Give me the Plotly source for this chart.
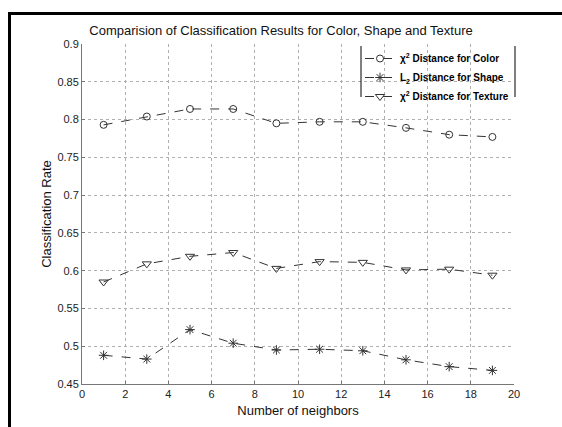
import plotly.graph_objects as go

neighbors = [1, 3, 5, 7, 9, 11, 13, 15, 17, 19]
color_rate = [0.793, 0.804, 0.814, 0.814, 0.795, 0.797, 0.797, 0.789, 0.780, 0.777]
shape_rate = [0.488, 0.483, 0.522, 0.504, 0.495, 0.496, 0.494, 0.482, 0.473, 0.468]
texture_rate = [0.585, 0.609, 0.619, 0.624, 0.603, 0.612, 0.611, 0.601, 0.602, 0.594]

x_ticks = list(range(0, 21, 2))
y_ticks = [0.45, 0.5, 0.55, 0.6, 0.65, 0.7, 0.75, 0.8, 0.85, 0.9]
y_tick_labels = ["0.45", "0.5", "0.55", "0.6", "0.65", "0.7", "0.75", "0.8", "0.85", "0.9"]

names = ["χ<sup>2</sup> Distance for Color",
         "L<sub>2</sub> Distance for Shape",
         "χ<sup>2</sup> Distance for Texture"]

FONT = "Liberation Sans, Arial, sans-serif"
LINE_C = "#333333"

fig = go.Figure()
fig.add_trace(go.Scatter(x=neighbors, y=color_rate, mode="lines+markers", name=names[0],
                         line=dict(color=LINE_C, width=1, dash="dash"),
                         marker=dict(symbol="circle-open", size=7, color=LINE_C, line=dict(width=1))))
fig.add_trace(go.Scatter(x=neighbors, y=shape_rate, mode="lines+markers", name=names[1],
                         line=dict(color=LINE_C, width=1, dash="dash"),
                         marker=dict(symbol="asterisk-open", size=8, color=LINE_C, line=dict(width=1, color=LINE_C))))
fig.add_trace(go.Scatter(x=neighbors, y=texture_rate, mode="lines+markers", name=names[2],
                         line=dict(color=LINE_C, width=1, dash="dash"),
                         marker=dict(symbol="triangle-down-open", size=8, color=LINE_C, line=dict(width=1))))

L, R, T, B = 82, 48, 44, 43
W, H = 562, 427
pw, ph = W - L - R, H - T - B

def px(xp):
    return (xp - L) / pw

def py(yp):
    return (H - B - yp) / ph

shapes = [
    # outer figure frame (left and top visible)
    dict(type="line", xref="paper", yref="paper", x0=px(9.5), x1=px(9.5), y0=py(12), y1=py(440),
         line=dict(color="black", width=3)),
    dict(type="line", xref="paper", yref="paper", x0=px(8), x1=px(580), y0=py(13.5), y1=py(13.5),
         line=dict(color="black", width=3)),
    # legend side borders
    dict(type="line", xref="paper", yref="paper", x0=px(361), x1=px(361), y0=py(46), y1=py(97),
         line=dict(color="black", width=1)),
    dict(type="line", xref="paper", yref="paper", x0=px(515), x1=px(515), y0=py(46), y1=py(97),
         line=dict(color="black", width=1)),
]

fig.update_layout(
    width=W, height=H,
    margin=dict(l=L, r=R, t=T, b=B),
    paper_bgcolor="white", plot_bgcolor="white",
    font=dict(family=FONT, color="#222222", size=11),
    title=dict(text="Comparision of Classification Results for Color, Shape and Texture",
               x=px(298), xanchor="center", y=1 - 30 / H, yanchor="middle",
               font=dict(size=13, family=FONT, color="#111111")),
    showlegend=True,
    legend=dict(x=px(360), y=py(44), xanchor="left", yanchor="top",
                bgcolor="rgba(255,255,255,0)", borderwidth=0,
                font=dict(size=10, family=FONT, color="#000000", weight="bold"),
                tracegroupgap=0, itemwidth=30),
    shapes=shapes,
)

fig.update_xaxes(range=[0, 20], tickvals=x_ticks, ticktext=[str(v) for v in x_ticks],
                 showgrid=True, gridcolor="#b0b0b0", griddash="dot", gridwidth=1,
                 showline=True, linecolor="#777777", linewidth=1,
                 ticks="inside", ticklen=3, tickcolor="#777777",
                 zeroline=False,
                 title=dict(text="Number of neighbors", font=dict(size=13, family=FONT, color="#111111"),
                            standoff=6),
                 tickfont=dict(size=11))
fig.update_yaxes(range=[0.45, 0.9], tickvals=y_ticks, ticktext=y_tick_labels,
                 showgrid=True, gridcolor="#b0b0b0", griddash="dot", gridwidth=1,
                 showline=True, linecolor="#777777", linewidth=1,
                 ticks="inside", ticklen=3, tickcolor="#777777",
                 zeroline=False,
                 title=dict(text="Classification Rate", font=dict(size=13, family=FONT, color="#111111"),
                            standoff=2),
                 tickfont=dict(size=11))

fig.write_html("out.html", config={"displayModeBar": False},
               post_script="document.body.style.margin='0';document.body.style.overflow='hidden';")
